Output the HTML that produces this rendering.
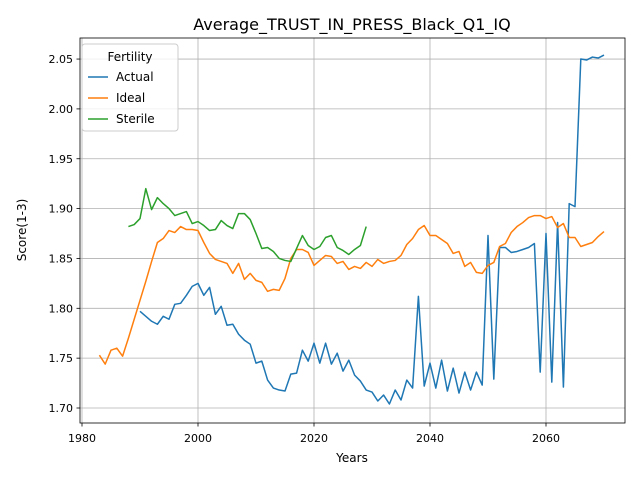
<!DOCTYPE html>
<html><head><meta charset="utf-8"><style>
body{margin:0;background:#fff;font-family:"Liberation Sans","DejaVu Sans",sans-serif}
svg text{font-family:"DejaVu Sans","Liberation Sans",sans-serif}
</style></head><body>
<svg id="chart" width="640" height="480" xmlns="http://www.w3.org/2000/svg">
<rect width="640" height="480" fill="#fff"/>
<g id="grid"></g>
<g id="series"></g>
<rect x="80" y="38" width="545" height="385" fill="none" stroke="#000" stroke-width="0.8"/>
<g id="axes"></g>
<text x="352" y="30" text-anchor="middle" font-size="16">Average_TRUST_IN_PRESS_Black_Q1_IQ</text>
<text x="352" y="462" text-anchor="middle" font-size="12">Years</text>
<text transform="translate(26,230) rotate(-90)" text-anchor="middle" font-size="12">Score(1-3)</text>
<g>
<rect x="82" y="44" width="96" height="87" rx="3" fill="#fff" fill-opacity="0.8" stroke="#ccc"/>
<text x="130" y="61" text-anchor="middle" font-size="12">Fertility</text>
<line x1="88" y1="77" x2="108" y2="77" stroke="#1f77b4" stroke-width="1.5"/><text x="116" y="81" font-size="12">Actual</text>
<line x1="88" y1="98" x2="108" y2="98" stroke="#ff7f0e" stroke-width="1.5"/><text x="116" y="102" font-size="12">Ideal</text>
<line x1="88" y1="119" x2="108" y2="119" stroke="#2ca02c" stroke-width="1.5"/><text x="116" y="123" font-size="12">Sterile</text>
</g>
</svg>
<script>
const xTicks=[1980,2000,2020,2040,2060];
const yTicks=[1.70,1.75,1.80,1.85,1.90,1.95,2.00,2.05];
const actualStart=1990;
const actual=[1.797,1.792,1.787,1.784,1.792,1.789,1.804,1.805,1.813,1.822,1.825,1.813,1.821,1.794,1.802,1.783,1.784,1.774,1.768,1.764,1.745,1.747,1.728,1.720,1.718,1.717,1.734,1.735,1.758,1.747,1.765,1.745,1.765,1.744,1.755,1.737,1.748,1.733,1.727,1.718,1.716,1.707,1.713,1.704,1.718,1.708,1.728,1.720,1.812,1.722,1.745,1.720,1.748,1.717,1.740,1.715,1.736,1.718,1.736,1.723,1.873,1.729,1.861,1.861,1.856,1.857,1.859,1.861,1.865,1.736,1.875,1.726,1.886,1.721,1.905,1.902,2.050,2.049,2.052,2.051,2.054];
const idealStart=1983;
const ideal=[1.753,1.744,1.758,1.760,1.752,1.770,1.789,1.808,1.827,1.847,1.866,1.870,1.878,1.876,1.882,1.879,1.879,1.878,1.866,1.855,1.849,1.847,1.845,1.835,1.845,1.829,1.835,1.828,1.826,1.817,1.819,1.818,1.830,1.850,1.859,1.859,1.856,1.843,1.848,1.853,1.852,1.845,1.847,1.839,1.842,1.840,1.846,1.842,1.849,1.845,1.847,1.848,1.853,1.864,1.870,1.879,1.883,1.873,1.873,1.869,1.865,1.855,1.857,1.842,1.846,1.836,1.835,1.843,1.846,1.862,1.865,1.876,1.882,1.886,1.891,1.893,1.893,1.890,1.892,1.881,1.885,1.871,1.871,1.862,1.864,1.866,1.872,1.877];
const sterileStart=1988;
const sterile=[1.882,1.884,1.890,1.920,1.899,1.911,1.905,1.900,1.893,1.895,1.897,1.885,1.887,1.883,1.878,1.879,1.888,1.883,1.880,1.895,1.895,1.889,1.875,1.860,1.861,1.857,1.850,1.848,1.847,1.860,1.873,1.863,1.859,1.862,1.871,1.873,1.861,1.858,1.854,1.859,1.863,1.882];
const NS="http://www.w3.org/2000/svg";
const X=y=>82+(y-1980)*5.8;
const Y=v=>408-(v-1.70)*997;
const grid=document.getElementById('grid'),axes=document.getElementById('axes'),ser=document.getElementById('series');
function mk(tag,attrs,parent){const e=document.createElementNS(NS,tag);for(const k in attrs)e.setAttribute(k,attrs[k]);parent.appendChild(e);return e;}
xTicks.forEach(t=>{const x=X(t);
 const g=mk('line',{x1:x,x2:x,y1:38,y2:423,stroke:'#b0b0b0','stroke-width':0.8},grid);
 
 
 mk('line',{x1:x,x2:x,y1:423,y2:426.5,stroke:'#000','stroke-width':0.8},axes);
 const tx=mk('text',{x:x,y:442,'text-anchor':'middle','font-size':11},axes);tx.textContent=t;
 
 
});
yTicks.forEach(t=>{const y=Y(t);
 const g=mk('line',{x1:80,x2:625,y1:y,y2:y,stroke:'#b0b0b0','stroke-width':0.8},grid);
 
 
 mk('line',{x1:76.5,x2:80,y1:y,y2:y,stroke:'#000','stroke-width':0.8},axes);
 const tx=mk('text',{x:73,y:y+4,'text-anchor':'end','font-size':11},axes);tx.textContent=t.toFixed(2);
 
 
});
function line(arr,start,color,name){
 const d=arr.map((v,i)=>(i?'L':'M')+X(start+i).toFixed(2)+','+Y(v).toFixed(2)).join('');
 const p=mk('path',{d:d,fill:'none',stroke:color,'stroke-width':1.5,'stroke-linejoin':'round'},ser);
 
 
}
line(actual,actualStart,'#1f77b4','actual-line');
line(ideal,idealStart,'#ff7f0e','ideal-line');
line(sterile,sterileStart,'#2ca02c','sterile-line');
</script>
</body></html>
